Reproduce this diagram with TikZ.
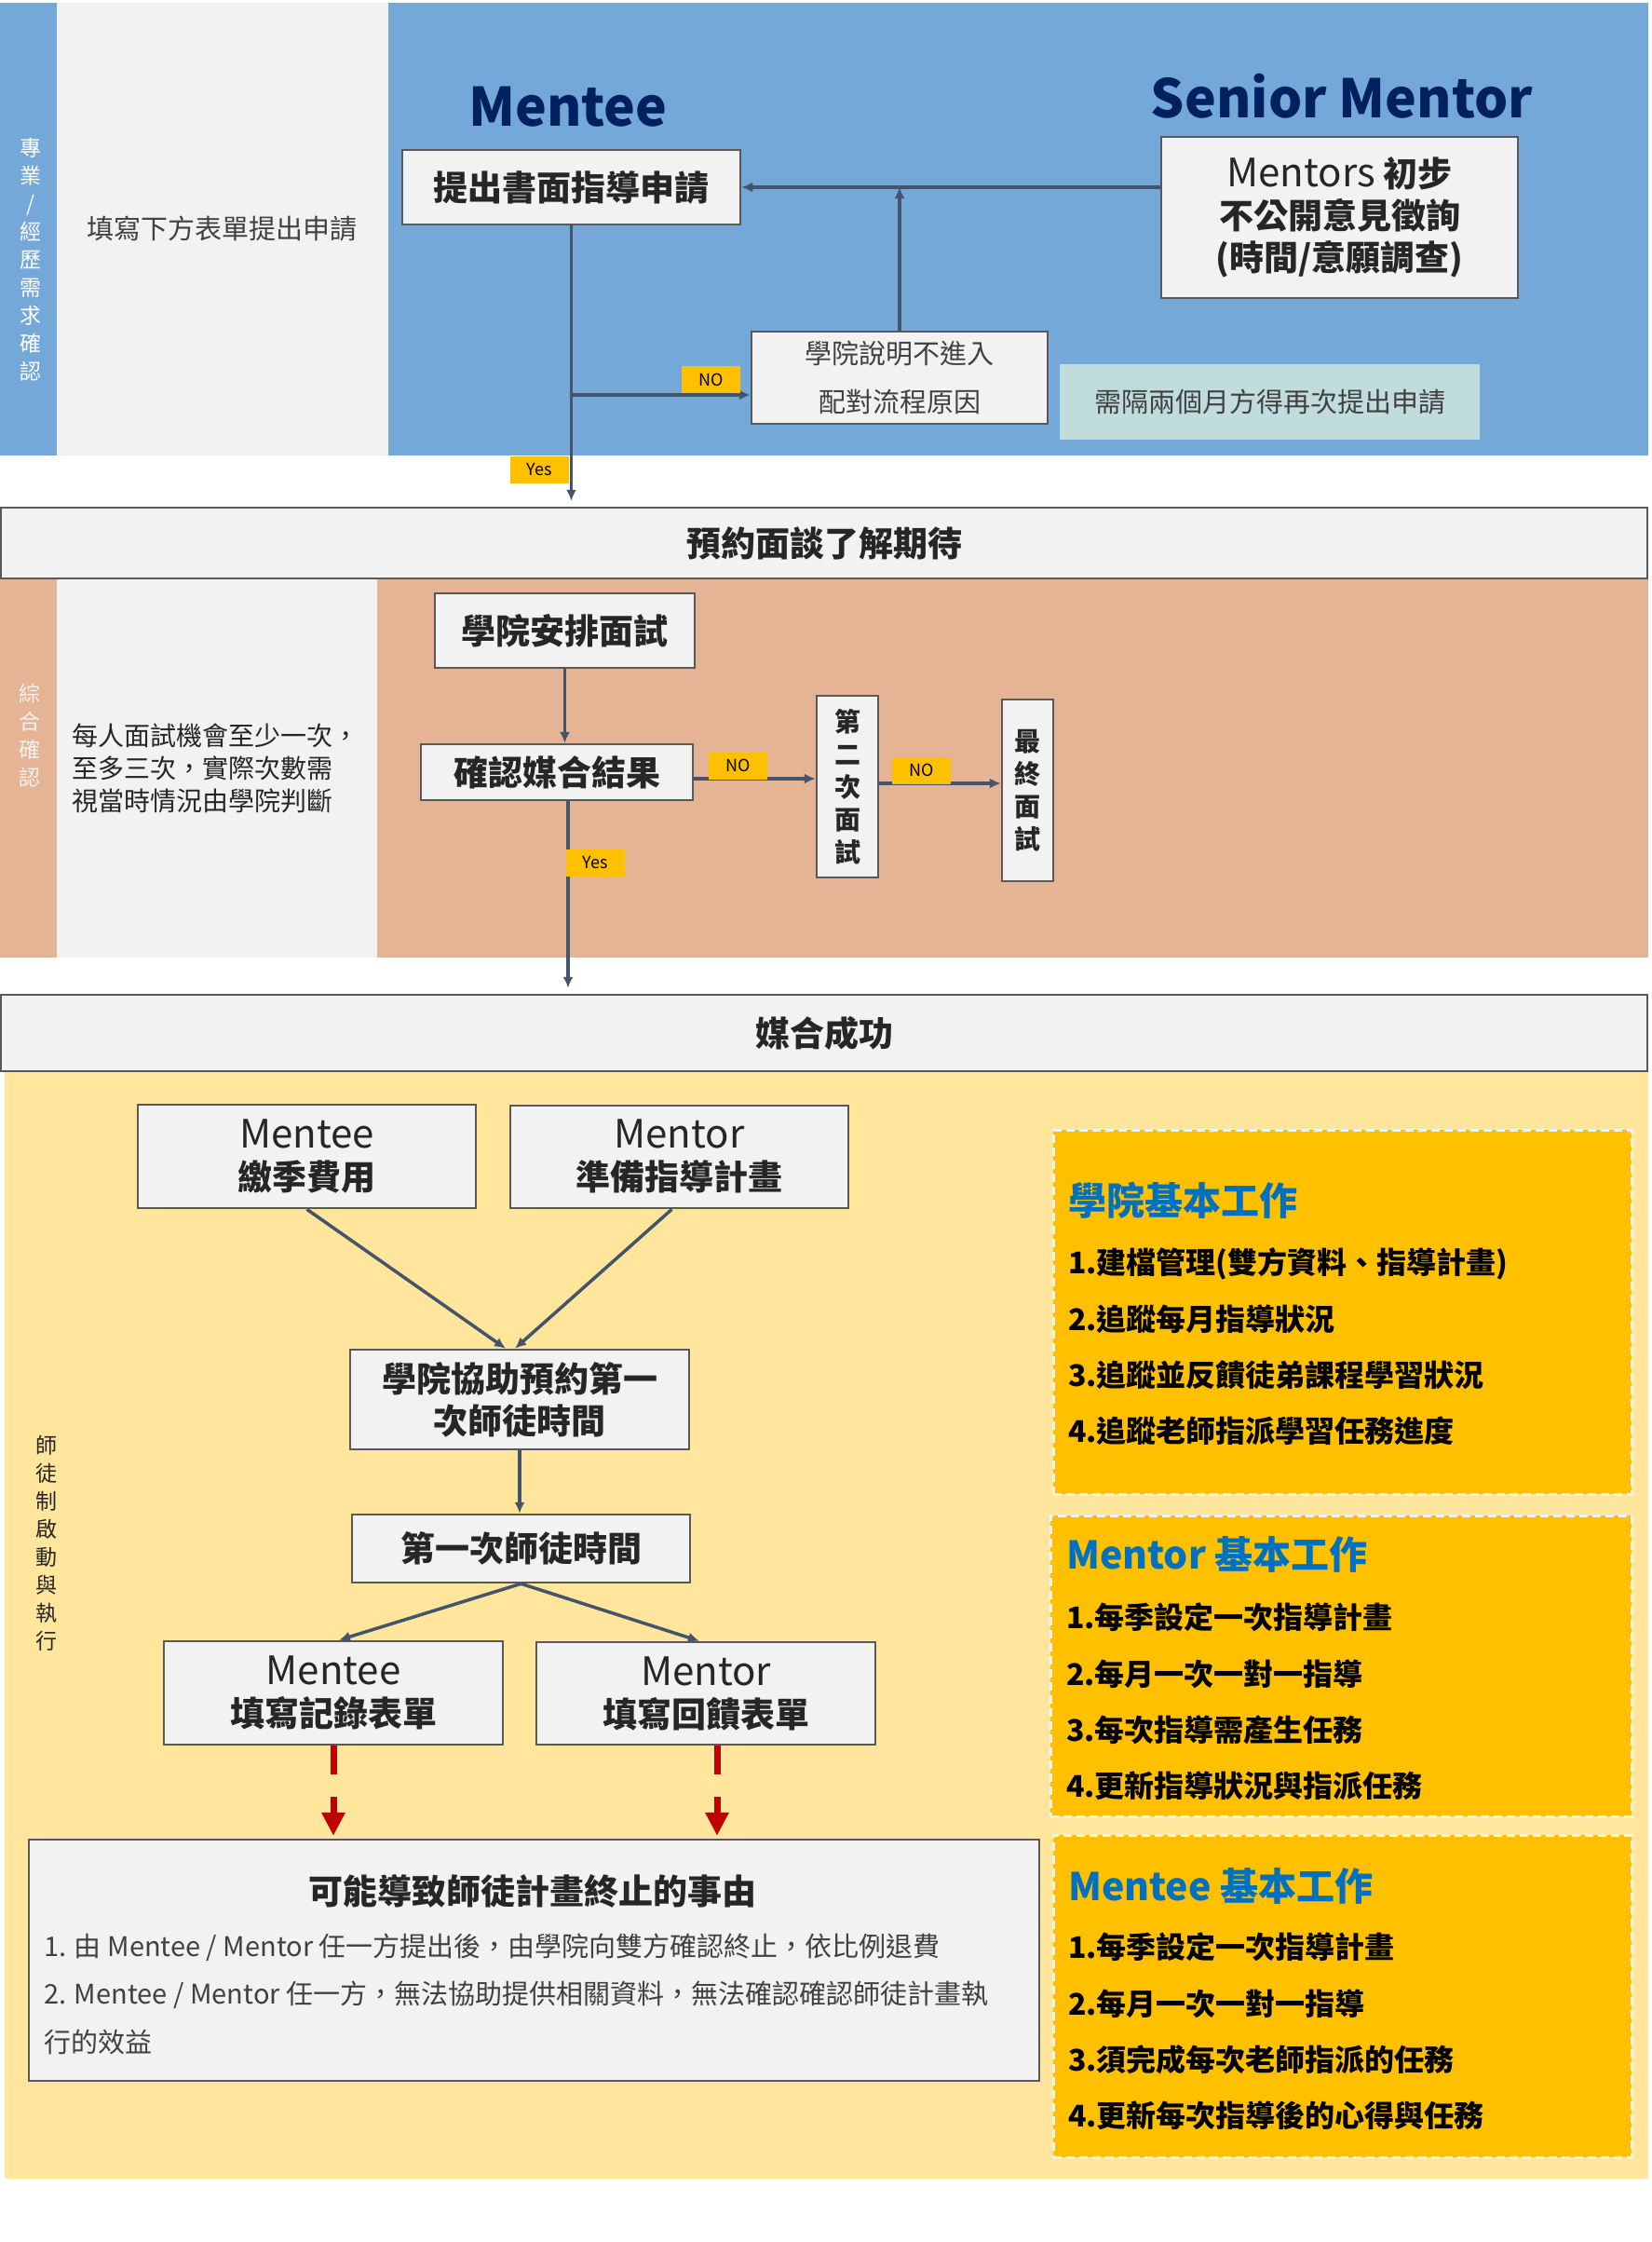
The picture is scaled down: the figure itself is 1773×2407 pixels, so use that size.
\documentclass[tikz,border=0pt]{standalone}
\usepackage{fontspec}
\setmainfont{Noto Sans CJK TC}
\usetikzlibrary{arrows.meta}
\definecolor{bandblue}{RGB}{116,168,216}
\definecolor{panel}{RGB}{242,242,242}
\definecolor{peach}{RGB}{228,180,148}
\definecolor{cream}{RGB}{255,230,156}
\definecolor{amber}{RGB}{255,192,0}
\definecolor{softteal}{RGB}{192,220,220}
\definecolor{slate}{RGB}{68,84,106}
\definecolor{edge}{RGB}{89,89,89}
\definecolor{ink}{RGB}{38,38,38}
\definecolor{softink}{RGB}{64,64,64}
\definecolor{titlenavy}{RGB}{0,32,96}
\definecolor{titleblue}{RGB}{0,112,192}
\definecolor{alarm}{RGB}{192,0,0}
\newcommand{\rolename}[1]{{\mdseries\fontsize{42}{45}\selectfont #1}}
\begin{document}
\begin{tikzpicture}[x=1pt,y=-1pt]
    \tikzstyle{every node}+=[inner sep=0pt]
    \tikzstyle{panelbox}=[draw=edge, line width=2.5pt, fill=panel, align=center, text=ink, font=\bfseries\fontsize{37}{45}\selectfont]
    \tikzstyle{tagbox}=[fill=amber, minimum width=63pt, minimum height=29pt, text=black, font=\fontsize{18}{18}\selectfont]
    \tikzstyle{flowline}=[draw=slate, line width=3.5pt, -{Latex[length=12pt,width=11pt]}]
    \tikzstyle{stopline}=[draw=alarm, line width=7pt, dash pattern=on 31pt off 24pt on 300pt, -{Triangle[length=25pt,width=24pt]}]
    \tikzstyle{workbox}=[fill=amber, draw=panel, line width=3pt, dash pattern=on 9pt off 5pt]
    \tikzstyle{vtext}=[align=center, font=\fontsize{23}{30}\selectfont]
    \tikzstyle{note}=[align=center, text=softink, font=\fontsize{29}{35}\selectfont]
    \tikzstyle{title}=[text=titlenavy, font=\bfseries\fontsize{57}{62}\selectfont]
    \tikzstyle{headtext}=[anchor=west, text=titleblue, font=\bfseries\fontsize{41}{45}\selectfont]
    \tikzstyle{itemtext}=[anchor=west, align=left, text=black, font=\bfseries\fontsize{32}{60.3}\selectfont]
    \useasboundingbox (0,0) rectangle (1773,2407);
    \fill [bandblue] (0,3) rectangle (1770,489);
    \fill [panel] (61,3) rectangle (417,489);
    \fill [peach] (0,621) rectangle (1770,1028);
    \fill [panel] (61,621) rectangle (405,1028);
    \fill [cream] (5,1150) rectangle (1770,2339);

    \node [vtext, text=white] (lane1) at (33,279) {專\\業\\/\\經\\歷\\需\\求\\確\\認};
    \node [note] (hint1) at (238,246) {填寫下方表單提出申請};
    \node [title] (menteehead) at (610,115) {Mentee};
    \node [title] (seniorhead) at (1441,103) {Senior Mentor};
    \node [panelbox, minimum width=363pt, minimum height=80pt] (apply) at (613.5,201) {提出書面指導申請};
    \node [panelbox, minimum width=383pt, minimum height=173pt] (survey) at (1438.5,233.5) {\rolename{Mentors} 初步\\不公開意見徵詢\\(時間/意願調查)};
    \node [panelbox, text=softink, font=\fontsize{29}{52}\selectfont, minimum width=318pt, minimum height=99pt] (reason) at (966,405.5) {學院說明不進入\\配對流程原因};
    \node [fill=softteal, text=softink, font=\fontsize{29}{35}\selectfont, minimum width=451pt, minimum height=81pt] (wait) at (1363.5,431.5) {需隔兩個月方得再次提出申請};
    \node [panelbox, minimum width=1768pt, minimum height=76pt] (meet) at (885,583) {預約面談了解期待};

    \draw [flowline] (survey.west |- apply.east) -- (apply.east);
    \draw [flowline] (reason.north) -- (reason.north |- apply.east);
    \draw [flowline, shorten >=6pt] (apply.south) -- (apply.south |- meet.north);
    \coordinate (nosplit) at (apply.south |- 0,424);
    \draw [flowline] (nosplit) -- (nosplit -| reason.west);
    \node [tagbox] (no1) at (763.5,407.5) {NO};
    \node [tagbox] (yes1) at (579,504) {Yes};

    \node [vtext, text=panel] (lane2) at (32,790) {綜\\合\\確\\認};
    \node [note, align=left, anchor=west, text=ink, font=\fontsize{28}{35}\selectfont] (hint2) at (77,825) {每人面試機會至少一次，\\至多三次，實際次數需\\視當時情況由學院判斷};
    \node [panelbox, minimum width=279pt, minimum height=80pt] (arrange) at (606.5,677) {學院安排面試};
    \node [panelbox, minimum width=292pt, minimum height=60pt] (match) at (598,829) {確認媒合結果};
    \node [panelbox, font=\bfseries\fontsize{28}{35}\selectfont, minimum width=66pt, minimum height=195pt] (second) at (910,844.5) {第\\二\\次\\面\\試};
    \node [panelbox, font=\bfseries\fontsize{28}{35}\selectfont, minimum width=55pt, minimum height=195pt] (final) at (1103.5,848.5) {最\\終\\面\\試};
    \node [panelbox, minimum width=1768pt, minimum height=82pt] (success) at (885,1109) {媒合成功};

    \draw [flowline] (arrange.south) -- (arrange.south |- match.north);
    \draw [flowline] ([yshift=-7pt]match.east) -- ([yshift=-7pt]match.east -| second.west);
    \draw [flowline] ([yshift=3.5pt]second.east) -- ([yshift=3.5pt]second.east -| final.west);
    \draw [flowline, shorten >=6pt] ([xshift=12pt]match.south) -- ([xshift=12pt]match.south |- success.north);
    \node [tagbox] (no2) at (792.5,822) {NO};
    \node [tagbox] (no3) at (989.5,827) {NO};
    \node [tagbox] (yes2) at (639,926.5) {Yes};

    \node [vtext, text=ink] (lane3) at (50,1657) {師\\徒\\制\\啟\\動\\與\\執\\行};
    \node [panelbox, minimum width=363pt, minimum height=111pt] (fee) at (329.5,1241.5) {\rolename{Mentee}\\繳季費用};
    \node [panelbox, minimum width=363pt, minimum height=110pt] (plan) at (729.5,1242) {\rolename{Mentor}\\準備指導計畫};
    \node [panelbox, minimum width=364pt, minimum height=107pt] (book) at (558,1502.5) {學院協助預約第一\\次師徒時間};
    \node [panelbox, minimum width=363pt, minimum height=73pt] (first) at (559.5,1662.5) {第一次師徒時間};
    \node [panelbox, minimum width=364pt, minimum height=111pt] (record) at (358,1817.5) {\rolename{Mentee}\\填寫記錄表單};
    \node [panelbox, minimum width=364pt, minimum height=110pt] (feedback) at (758,1818) {\rolename{Mentor}\\填寫回饋表單};
    \node [panelbox, minimum width=1085pt, minimum height=259pt] (reasons) at (573.5,2104.5) {};
    \node [text=ink, font=\bfseries\fontsize{37}{45}\selectfont] (reasonhead) at (572,2030) {可能導致師徒計畫終止的事由};
    \node [anchor=west, align=left, text=softink, font=\fontsize{29}{51.5}\selectfont] (reasonlist) at (47,2140.5) {1. 由 Mentee / Mentor 任一方提出後，由學院向雙方確認終止，依比例退費\\2. Mentee / Mentor 任一方，無法協助提供相關資料，無法確認確認師徒計畫執\\行的效益};

    \draw [flowline] (fee.south) -- ([xshift=-15pt]book.north);
    \draw [flowline] ([xshift=-8pt]plan.south) -- ([xshift=-5pt]book.north);
    \draw [flowline] (book.south) -- (book.south |- first.north);
    \draw [flowline] (first.south) -- ([xshift=6pt]record.north);
    \draw [flowline] (first.south) -- ([xshift=-7pt]feedback.north);
    \draw [stopline, shorten >=3pt] (record.south) -- (record.south |- reasons.north);
    \draw [stopline, shorten >=3pt] ([xshift=12pt]feedback.south) -- ([xshift=12pt]feedback.south |- reasons.north);

    \node [workbox, minimum width=621pt, minimum height=391pt] (deanwork) at (1441.5,1408.5) {};
    \node [headtext] (deanhead) at (1147,1289) {學院基本工作};
    \node [itemtext] (deanlist) at (1147,1446) {1.建檔管理(雙方資料、指導計畫)\\2.追蹤每月指導狀況\\3.追蹤並反饋徒弟課程學習狀況\\4.追蹤老師指派學習任務進度};
    \node [workbox, minimum width=624pt, minimum height=323pt] (mentorwork) at (1440,1788.5) {};
    \node [headtext] (mentorhead) at (1145,1669) {Mentor 基本工作};
    \node [itemtext] (mentorlist) at (1145,1827) {1.每季設定一次指導計畫\\2.每月一次一對一指導\\3.每次指導需產生任務\\4.更新指導狀況與指派任務};
    \node [workbox, minimum width=621pt, minimum height=346pt] (menteework) at (1441.5,2143) {};
    \node [headtext] (menteehead2) at (1147,2025) {Mentee 基本工作};
    \node [itemtext] (menteelist) at (1147,2181) {1.每季設定一次指導計畫\\2.每月一次一對一指導\\3.須完成每次老師指派的任務\\4.更新每次指導後的心得與任務};
\end{tikzpicture}
\end{document}
